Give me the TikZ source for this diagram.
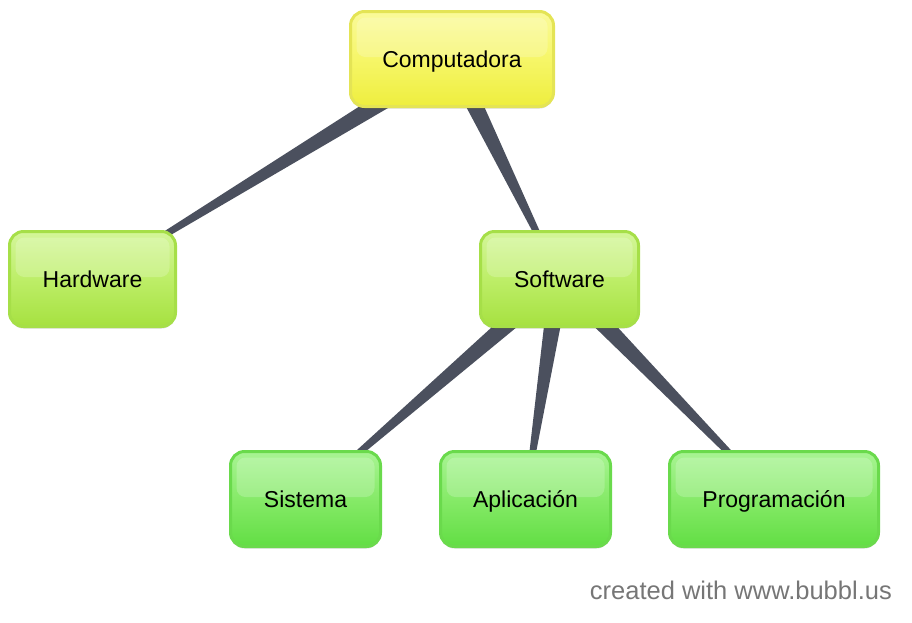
\documentclass[tikz,border=0pt]{standalone}
\usepackage{fontspec}
\setmainfont{Liberation Sans}
\usetikzlibrary{calc,shadows}
\definecolor{conn}{HTML}{4B505E}
\definecolor{ylwB}{HTML}{E4E455}
\definecolor{ylwT}{HTML}{FAFA9A}
\definecolor{ylwM}{HTML}{F6F668}
\definecolor{ylwD}{HTML}{EEEE3E}
\definecolor{limB}{HTML}{A6DF48}
\definecolor{limT}{HTML}{D4F69A}
\definecolor{limM}{HTML}{BDEE68}
\definecolor{limD}{HTML}{A6E140}
\definecolor{grnB}{HTML}{6ADA4C}
\definecolor{grnT}{HTML}{A8F493}
\definecolor{grnM}{HTML}{86EA68}
\definecolor{grnD}{HTML}{62DE44}
\definecolor{foot}{HTML}{767676}
\tikzset{
  bubble/.style={rounded corners=14pt, line width=3pt, inner sep=0pt,
    minimum height=95pt, font=\fontsize{23}{27}\selectfont,
    text height=16.5pt, text depth=0pt,
    drop shadow={shadow xshift=0pt, shadow yshift=-2pt, opacity=0.15, fill=black},
    path picture={\fill[white, opacity=0.2, rounded corners=9pt]
      ($(path picture bounding box.north west)+(6pt,-6pt)$) rectangle
      ($(path picture bounding box.east)+(-6pt,2pt)$);}},
  yellowbox/.style={bubble, draw=ylwB, top color=ylwT, bottom color=ylwD, middle color=ylwM},
  limebox/.style={bubble, draw=limB, top color=limT, bottom color=limD, middle color=limM},
  greenbox/.style={bubble, draw=grnB, top color=grnT, bottom color=grnD, middle color=grnM},
  wedge/.style={fill=conn}
}
\newcommand{\wedgeconn}[2]{%
  \fill[wedge] ($(#1.center)!10pt!90:(#2.center)$) --
    ($(#2.center)!1.5pt!-90:(#1.center)$) --
    ($(#2.center)!1.5pt!90:(#1.center)$) --
    ($(#1.center)!10pt!-90:(#2.center)$) -- cycle;}
\begin{document}
\begin{tikzpicture}[x=1pt,y=-1pt]
\useasboundingbox (0,0) rectangle (912,622);
% node centres (connectors are drawn first, behind the nodes)
\coordinate (cC) at (452,59);
\coordinate (cH) at (92.5,279);
\coordinate (cS) at (559.5,279);
\coordinate (cSi) at (305.5,499);
\coordinate (cA) at (525.5,499);
\coordinate (cP) at (774,499);
% connectors
\wedgeconn{cC}{cH}
\wedgeconn{cC}{cS}
\wedgeconn{cS}{cSi}
\wedgeconn{cS}{cA}
\wedgeconn{cS}{cP}
% nodes
\node[yellowbox, minimum width=203pt] (comp) at (cC) {Computadora};
\node[limebox, minimum width=166pt] (hard) at (cH) {Hardware};
\node[limebox, minimum width=158pt] (soft) at (cS) {Software};
\node[greenbox, minimum width=150pt] (sist) at (cSi) {Sistema};
\node[greenbox, minimum width=170pt] (apli) at (cA) {Aplicación};
\node[greenbox, minimum width=209pt] (prog) at (cP) {Programación};
\node[anchor=base east, inner sep=0pt, text=foot, font=\fontsize{25.5}{30}\selectfont] (footer) at (892,599) {created with www.bubbl.us};
\end{tikzpicture}
\end{document}
